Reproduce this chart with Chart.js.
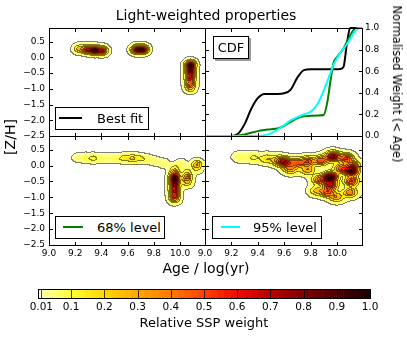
<!DOCTYPE html>
<html>
<head>
<meta charset="utf-8">
<title>Light-weighted properties</title>
<script src="https://cdn.jsdelivr.net/npm/chart.js@4.4.0/dist/chart.umd.min.js"></script>
<style>
  body { margin: 0; background: #fff; font-family: "DejaVu Sans", sans-serif; }
  #fig { position: relative; width: 407px; height: 337px; overflow: hidden; }
  #fig canvas { position: absolute; left: 0; top: 0; }
  .txt { position: absolute; white-space: nowrap; color: #000; transform: translate(-50%, -50%); }
  .lg { position: absolute; box-sizing: border-box; border: 1px solid #000; background: #fff; font-size: 13px; height: 23px; }
  .lg i { position: absolute; height: 2px; top: 9px; }
  .lg span { position: absolute; top: 0; line-height: 21px; white-space: nowrap; }
</style>
</head>
<body>
<div id="fig">
  <canvas id="best" width="407" height="337"></canvas>
  <canvas id="cdf" width="407" height="337"></canvas>
  <canvas id="lev68" width="407" height="337"></canvas>
  <canvas id="lev95" width="407" height="337"></canvas>
  <canvas id="cbar" width="407" height="337"></canvas>

  <div class="txt" style="left:206px;top:15px;font-size:14px">Light-weighted properties</div>
  <div class="txt" style="left:10px;top:137px;font-size:14px;transform:translate(-50%,-50%) rotate(-90deg)">[Z/H]</div>
  <div class="txt" style="left:206px;top:268px;font-size:14px">Age / log(yr)</div>
  <div class="txt" style="left:397px;top:84px;font-size:11.5px;transform:translate(-50%,-50%) rotate(90deg)">Normalised Weight (&lt; Age)</div>
  <div class="txt" style="left:204px;top:322px;font-size:13px">Relative SSP weight</div>

  <div class="lg" style="left:55px;top:107px;width:94px"><i style="left:3px;width:23px;background:#000"></i><span style="left:41px">Best fit</span></div>
  <div class="lg" style="left:55px;top:216px;width:110px"><i style="left:7px;width:20px;background:#008000"></i><span style="left:41px">68% level</span></div>
  <div class="lg" style="left:212px;top:216px;width:110px"><i style="left:8px;width:19px;background:#00ffff"></i><span style="left:40px">95% level</span></div>
  <div class="lg" style="left:213px;top:36px;width:36px;box-shadow:2px 2px 0 #999;text-align:center"><span style="left:0;width:34px">CDF</span></div>
</div>

<script>
// axis ticks
var ageTicks = [9.0, 9.2, 9.4, 9.6, 9.8, 10.0];
var zhTicks = [-2.5, -2.0, -1.5, -1.0, -0.5, 0.0, 0.5];
var cdfTicks = [0.0, 0.2, 0.4, 0.6, 0.8, 1.0];
var cbarTicks = [0.01, 0.1, 0.2, 0.3, 0.4, 0.5, 0.6, 0.7, 0.8, 0.9, 1.0];
var cbarLabels = ['0.01', '0.1', '0.2', '0.3', '0.4', '0.5', '0.6', '0.7', '0.8', '0.9', '1.0'];
var contourLevels = [0.01, 0.1, 0.2, 0.3, 0.4, 0.5, 0.6, 0.7, 0.8, 0.9];

// best fit SSPs (log age, [Z/H], weight)
var bestAge = [9.23, 9.29, 9.35, 9.41, 9.67, 9.72, 10.08, 10.08, 10.08, 10.08, 10.08];
var bestZ   = [0.26, 0.24, 0.22, 0.20, 0.24, 0.24, -0.25, -0.45, -0.65, -0.85, -1.00];
var bestW   = [0.25, 0.60, 1.00, 0.60, 0.80, 0.80, 1.00, 0.75, 0.60, 0.45, 0.20];

// 68% level SSPs
var age68 = [9.22, 9.28, 9.34, 9.40, 9.46, 9.52, 9.58, 9.64, 9.70, 9.76, 9.82, 9.88,
             9.96, 9.96, 9.96, 9.96, 9.96, 9.96, 10.055, 10.055, 10.055, 10.13, 10.13, 10.01, 9.96];
var z68   = [0.24, 0.23, 0.22, 0.22, 0.22, 0.22, 0.22, 0.22, 0.21, 0.18, 0.12, 0.05,
             -0.25, -0.42, -0.60, -0.78, -0.95, -1.08, -0.38, -0.55, -0.20, 0.03, -0.12, 0.05, -0.08];
var w68   = [0.05, 0.10, 0.14, 0.08, 0.06, 0.09, 0.17, 0.24, 0.15, 0.08, 0.06, 0.07,
             0.40, 1.00, 0.70, 0.60, 0.50, 0.25, 0.45, 0.20, 0.15, 0.32, 0.10, 0.08, 0.12];

// 95% level SSPs
var age95 = [9.27, 9.37, 9.47, 9.56, 9.61, 9.70, 9.65, 9.78, 9.78, 9.88, 9.97, 10.07, 10.12,
             9.95, 9.87, 9.95, 9.93, 10.00, 10.03, 10.11, 10.11, 10.10, 9.85];
var z95   = [0.26, 0.24, 0.20, 0.15, 0.09, 0.08, -0.12, 0.12, -0.15, 0.15, 0.28, 0.22, 0.00,
             -0.37, -0.45, -0.62, -0.85, -1.00, -0.10, -0.18, -0.50, -0.85, -0.80];
var w95   = [0.08, 0.12, 0.20, 0.35, 0.60, 0.45, 0.30, 0.50, 0.30, 0.50, 0.80, 0.55, 0.40,
             1.00, 0.45, 0.65, 0.45, 0.30, 0.45, 0.85, 0.55, 0.40, 0.25];

// cumulative weight below each age
var cdfAge  = [9.0, 9.2, 9.25, 9.3, 9.35, 9.4, 9.45, 9.5, 9.55, 9.6, 9.65, 9.7, 9.75, 9.8, 9.85, 9.9,
               9.925, 9.95, 9.975, 10.0, 10.025, 10.05, 10.075, 10.1, 10.125, 10.15, 10.19];
var cdfBest = [0, 0, 0.02, 0.11, 0.25, 0.35, 0.39, 0.39, 0.39, 0.395, 0.43, 0.54, 0.61, 0.617, 0.617, 0.617,
               0.617, 0.617, 0.617, 0.617, 0.62, 0.64, 0.85, 1.0, 1.0, 1.0, 1.0];
var cdf68   = [0, 0, 0.005, 0.015, 0.03, 0.045, 0.055, 0.062, 0.07, 0.095, 0.13, 0.165, 0.183, 0.187, 0.19, 0.195,
               0.3, 0.5, 0.68, 0.73, 0.77, 0.81, 0.87, 0.93, 0.98, 1.0, 1.0];
var cdf95   = [0, 0, 0, 0, 0, 0, 0.008, 0.025, 0.06, 0.1, 0.145, 0.175, 0.2, 0.225, 0.29, 0.42,
               0.5, 0.58, 0.66, 0.72, 0.77, 0.81, 0.85, 0.9, 0.95, 0.99, 1.0];

var AGE_MIN = 9.0, AGE_MAX = 10.19, ZH_MIN = -2.5, ZH_MAX = 0.93;

// yellow -> red -> black colour map
var CMAP = [[0.01, 255, 255, 170], [0.1, 255, 255, 50], [0.2, 255, 215, 0], [0.3, 255, 165, 0],
            [0.4, 255, 120, 0], [0.5, 255, 65, 0], [0.6, 235, 10, 0], [0.7, 185, 0, 0],
            [0.8, 125, 0, 0], [0.9, 75, 0, 0], [1.0, 25, 0, 0]];

function mixColor(t) {
  if (t <= CMAP[0][0]) return CMAP[0].slice(1);
  for (var i = 1; i < CMAP.length; i++) {
    if (t <= CMAP[i][0]) {
      var f = (t - CMAP[i - 1][0]) / (CMAP[i][0] - CMAP[i - 1][0]);
      return [1, 2, 3].map(function (c) { return Math.round(CMAP[i - 1][c] + f * (CMAP[i][c] - CMAP[i - 1][c])); });
    }
  }
  return CMAP[CMAP.length - 1].slice(1);
}
function bandColor(v) {
  var lo = v < 0.02 ? 0.01 : Math.floor(v * 50) / 50;
  return mixColor(Math.min(lo + 0.01, 1));
}

Chart.defaults.font.family = '"DejaVu Sans", sans-serif';
Chart.defaults.color = '#000';

function fixTicks(list) {
  return function (scale) { scale.ticks = list.map(function (v) { return { value: v }; }); };
}
function fmt(v) { return v.toFixed(1).replace('-', '\u2212'); }

// filled contours of the smoothed SSP weights
var kdePlugin = {
  id: 'kde',
  beforeDatasetsDraw: function (chart, args, o) {
    var ds = chart.data.datasets[0];
    if (!ds || !ds.weights) return;
    var a = chart.chartArea, xs = chart.scales.x, ys = chart.scales.y;
    var x0 = Math.round(a.left) + 1, y0 = Math.round(a.top) + 1;
    var w = Math.round(a.right) - x0, h = Math.round(a.bottom) - y0;
    var pts = ds.data, wts = ds.weights, sa = o.sa, sz = o.sz;
    var dens = new Float32Array(w * h), max = 0, i, j, k, p;
    for (j = 0; j < h; j++) {
      var zv = ys.getValueForPixel(y0 + j + 0.5);
      for (i = 0; i < w; i++) {
        var av = xs.getValueForPixel(x0 + i + 0.5), d = 0;
        for (k = 0; k < pts.length; k++) {
          var dx = (av - pts[k].x) / sa, dz = (zv - pts[k].y) / sz;
          d += wts[k] * Math.exp(-0.5 * (dx * dx + dz * dz));
        }
        dens[j * w + i] = d;
        if (d > max) max = d;
      }
    }
    var lv = new Uint8Array(w * h);
    for (p = 0; p < w * h; p++) {
      dens[p] /= max;
      var n = 0;
      for (k = 0; k < contourLevels.length; k++) if (dens[p] >= contourLevels[k]) n++;
      lv[p] = n;
    }
    var img = new ImageData(w, h), px = img.data;
    for (j = 0; j < h; j++) {
      for (i = 0; i < w; i++) {
        p = j * w + i;
        var v = dens[p];
        var edge = (i + 1 < w && lv[p + 1] !== lv[p]) || (j + 1 < h && lv[p + w] !== lv[p]);
        if (v < 0.01 && !edge) continue;
        var c = v >= 0.01 ? bandColor(v) : [255, 255, 255];
        if (edge) c = c.map(function (q) { return Math.round(q * 0.5); });
        px[p * 4] = c[0]; px[p * 4 + 1] = c[1]; px[p * 4 + 2] = c[2]; px[p * 4 + 3] = 255;
      }
    }
    var off = document.createElement('canvas');
    off.width = w; off.height = h;
    off.getContext('2d').putImageData(img, 0, 0);
    chart.ctx.drawImage(off, x0, y0);
  }
};

// box round the axes, ticks pointing inwards
var framePlugin = {
  id: 'frame',
  afterDatasetsDraw: function (chart, args, o) {
    var a = chart.chartArea, ctx = chart.ctx, xs = chart.scales.x, ys = chart.scales.y;
    var l = Math.round(a.left), t = Math.round(a.top), r = Math.round(a.right), b = Math.round(a.bottom);
    ctx.save();
    ctx.lineWidth = 1;
    if (o.vlines) {
      ctx.strokeStyle = 'rgba(0,0,0,0.75)';
      ctx.beginPath();
      o.vlines.forEach(function (v) {
        var x = Math.round(xs.getPixelForValue(v)) + 0.5;
        ctx.moveTo(x, t); ctx.lineTo(x, b);
      });
      ctx.stroke();
    }
    ctx.strokeStyle = '#000';
    ctx.beginPath();
    (o.xt || []).forEach(function (v) {
      var x = Math.round(xs.getPixelForValue(v)) + 0.5;
      if (x < l + 2 || x > r - 1) return;
      ctx.moveTo(x, t); ctx.lineTo(x, t + 4);
      ctx.moveTo(x, b + 1); ctx.lineTo(x, b - 3);
    });
    (o.yt || []).forEach(function (v) {
      var y = Math.round(ys.getPixelForValue(v)) + 0.5;
      if (y < t + 2 || y > b - 1) return;
      ctx.moveTo(l, y); ctx.lineTo(l + 4, y);
      ctx.moveTo(r + 1, y); ctx.lineTo(r - 3, y);
    });
    ctx.stroke();
    ctx.strokeRect(l + 0.5, t + 0.5, r - l, b - t);
    ctx.restore();
  }
};

var noGrid = { display: false, drawTicks: false };

function ageAxis(show) {
  return {
    type: 'linear', min: AGE_MIN, max: AGE_MAX, display: show,
    afterBuildTicks: fixTicks(ageTicks),
    afterFit: function (s) { if (show) s.height = 16; },
    grid: noGrid, border: { display: false },
    ticks: { font: { size: 9 }, padding: 3, autoSkip: false, maxRotation: 0, callback: fmt }
  };
}
function zhAxis(show) {
  return {
    type: 'linear', position: 'left', min: ZH_MIN, max: ZH_MAX, display: show,
    afterBuildTicks: fixTicks(zhTicks),
    afterFit: function (s) { if (show) s.width = 30; },
    grid: noGrid, border: { display: false },
    ticks: { font: { size: 9 }, padding: 4, autoSkip: false, callback: fmt }
  };
}

function kdePanel(id, area, ages, zs, wts, showY, showX, kernel) {
  var pts = ages.map(function (x, i) { return { x: x, y: zs[i] }; });
  return new Chart(document.getElementById(id), {
    type: 'scatter',
    data: { datasets: [{ data: pts, weights: wts, pointRadius: 0, pointHoverRadius: 0 }] },
    options: {
      responsive: false, animation: false, events: [],
      layout: { padding: {
        left: showY ? area.l - 30 : area.l, top: area.t,
        right: 407 - area.r, bottom: showX ? 337 - area.b - 16 : 337 - area.b } },
      scales: { x: ageAxis(showX), y: zhAxis(showY) },
      plugins: { legend: { display: false }, tooltip: { enabled: false },
                 kde: kernel, frame: { xt: ageTicks, yt: zhTicks } }
    },
    plugins: [kdePlugin, framePlugin]
  });
}

kdePanel('best', { l: 49, t: 28, r: 205, b: 136 }, bestAge, bestZ, bestW, true, false, { sa: 0.025, sz: 0.085 });
kdePanel('lev68', { l: 49, t: 136, r: 205, b: 245 }, age68, z68, w68, true, true, { sa: 0.025, sz: 0.085 });
kdePanel('lev95', { l: 205, t: 136, r: 362, b: 245 }, age95, z95, w95, false, true, { sa: 0.035, sz: 0.1 });

function cdfLine(vals, color, order) {
  return {
    data: cdfAge.map(function (x, i) { return { x: x, y: vals[i] }; }),
    borderColor: color, borderWidth: 2, pointRadius: 0, fill: false,
    cubicInterpolationMode: 'monotone', clip: false, order: order
  };
}

new Chart(document.getElementById('cdf'), {
  type: 'line',
  data: { datasets: [cdfLine(cdfBest, '#000000', 3), cdfLine(cdf68, '#008000', 2), cdfLine(cdf95, '#00ffff', 1)] },
  options: {
    responsive: false, animation: false, events: [],
    layout: { padding: { left: 205, top: 28, right: 407 - 362 - 35, bottom: 337 - 136 } },
    scales: {
      x: ageAxis(false),
      y: {
        type: 'linear', position: 'right', min: 0, max: 1,
        afterBuildTicks: fixTicks(cdfTicks),
        afterFit: function (s) { s.width = 35; },
        grid: noGrid, border: { display: false },
        ticks: { font: { size: 9 }, padding: 3, autoSkip: false, callback: fmt }
      }
    },
    plugins: { legend: { display: false }, tooltip: { enabled: false },
               frame: { xt: ageTicks, yt: cdfTicks } }
  },
  plugins: [framePlugin]
});

// colour bar: one floating bar per colour band
var bandEdges = [0, 0.01];
for (var e = 0.02; e < 1.0001; e += 0.02) bandEdges.push(Math.round(e * 100) / 100);
var bandSets = [];
for (var bi = 0; bi < bandEdges.length - 1; bi++) {
  var c = bi === 0 ? [250, 250, 250] : bandColor(bandEdges[bi] + 0.001);
  bandSets.push({
    data: [[bandEdges[bi], bandEdges[bi + 1]]],
    backgroundColor: 'rgb(' + c.join(',') + ')',
    borderWidth: 0, grouped: false, barPercentage: 1, categoryPercentage: 1
  });
}

new Chart(document.getElementById('cbar'), {
  type: 'bar',
  data: { labels: [''], datasets: bandSets },
  options: {
    indexAxis: 'y', responsive: false, animation: false, events: [],
    layout: { padding: { left: 38, top: 289, right: 407 - 370, bottom: 337 - 298 - 20 } },
    scales: {
      x: {
        type: 'linear', min: 0, max: 1,
        afterBuildTicks: fixTicks(cbarTicks),
        afterFit: function (s) { s.height = 20; },
        grid: noGrid, border: { display: false },
        ticks: { font: { size: 10.5 }, padding: 3, autoSkip: false, maxRotation: 0,
                 callback: function (v) { return cbarLabels[cbarTicks.indexOf(v)]; } }
      },
      y: { display: false }
    },
    plugins: { legend: { display: false }, tooltip: { enabled: false },
               frame: { vlines: cbarTicks } }
  },
  plugins: [framePlugin]
});
</script>
</body>
</html>
